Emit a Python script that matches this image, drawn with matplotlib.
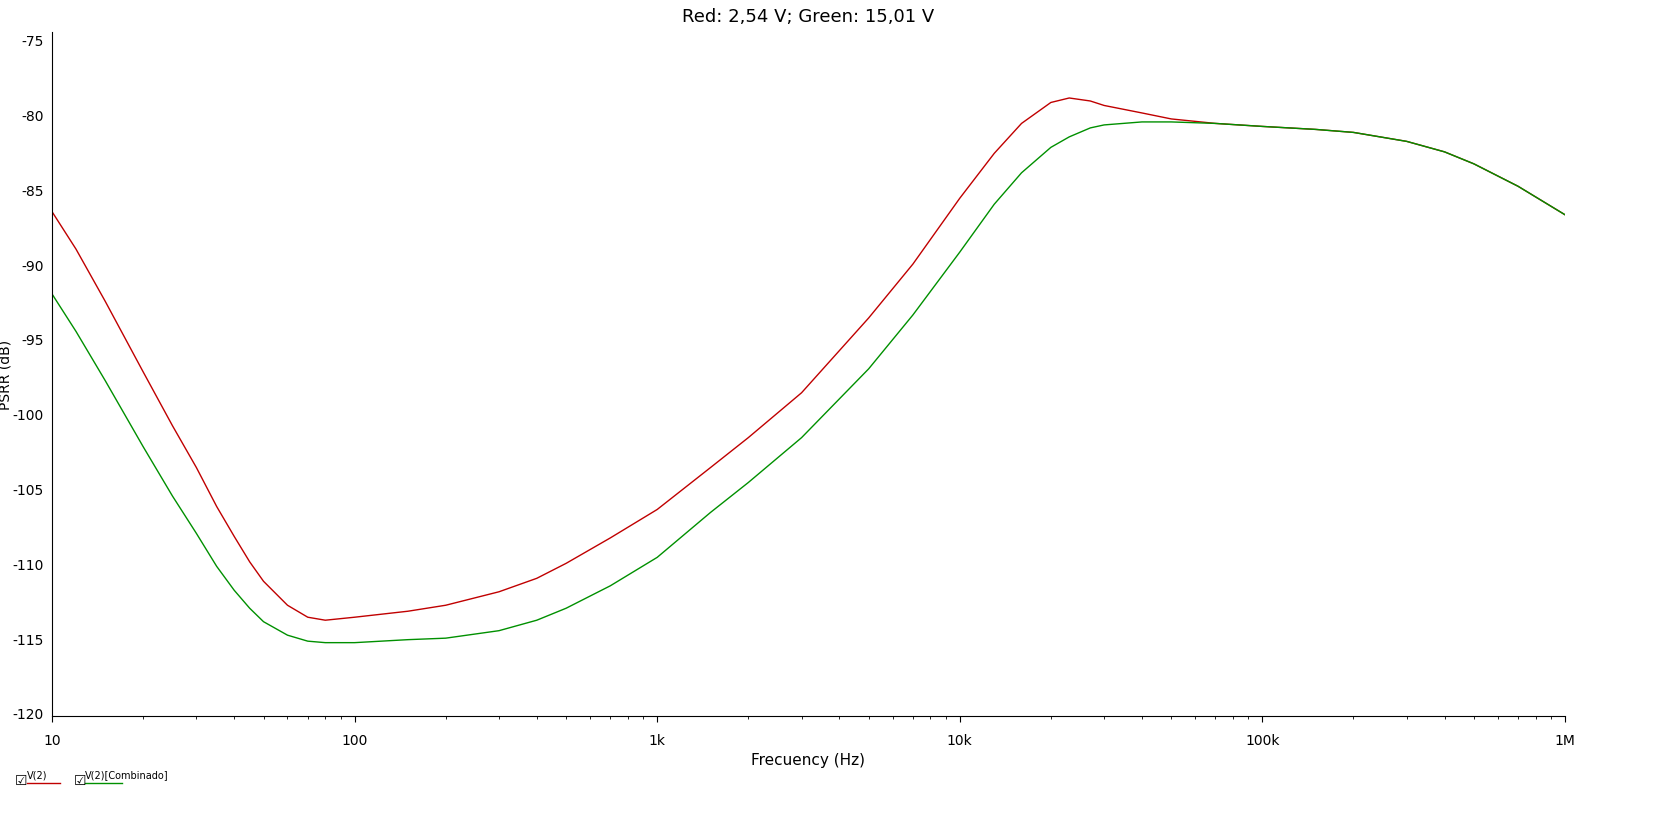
import matplotlib.pyplot as plt
import numpy as np

plt.rcParams['axes.unicode_minus'] = False

freq = [10, 12, 15, 20, 25, 30, 35, 40, 45, 50, 60, 70, 80, 100, 150, 200, 300, 400, 500, 700,
        1e3, 1.5e3, 2e3, 3e3, 5e3, 7e3, 1e4, 1.3e4, 1.6e4, 2e4, 2.3e4, 2.7e4, 3e4, 4e4, 5e4, 7e4,
        1e5, 1.5e5, 2e5, 3e5, 4e5, 5e5, 7e5, 1e6]
red = [-86.5, -89.0, -92.5, -97.2, -100.8, -103.6, -106.2, -108.2, -109.9, -111.2, -112.8, -113.6, -113.8, -113.6,
       -113.2, -112.8, -111.9, -111.0, -110.0, -108.3,
       -106.4, -103.6, -101.6, -98.6, -93.6, -90.0, -85.6, -82.6, -80.6, -79.2, -78.9, -79.1, -79.4, -79.9, -80.3, -80.6,
       -80.8, -81.0, -81.2, -81.8, -82.5, -83.3, -84.8, -86.7]
green = [-92.0, -94.5, -97.8, -102.2, -105.5, -108.0, -110.2, -111.8, -113.0, -113.9, -114.8, -115.2, -115.3, -115.3,
         -115.1, -115.0, -114.5, -113.8, -113.0, -111.5,
         -109.6, -106.6, -104.6, -101.6, -97.0, -93.4, -89.2, -86.0, -83.9, -82.2, -81.5, -80.9, -80.7, -80.5, -80.5, -80.6,
         -80.8, -81.0, -81.2, -81.8, -82.5, -83.3, -84.8, -86.7]

fig = plt.figure(figsize=(16.68, 8.37), dpi=100)
ax = fig.add_axes([0.0312, 0.1434, 0.907, 0.817])

ax.plot(freq, red, color='#c00000', lw=1)
ax.plot(freq, green, color='#009000', lw=1)

ax.set_xscale('log')
ax.set_xlim(10, 1e6)
ax.set_ylim(-120.2, -74.5)
ax.set_yticks(np.arange(-120, -74, 5))
ax.set_xticks([10, 100, 1e3, 1e4, 1e5, 1e6])
ax.set_xticklabels(['10', '100', '1k', '10k', '100k', '1M'])
ax.tick_params(axis='y', length=0, labelsize=10, pad=6)
ax.tick_params(axis='x', which='major', length=4, labelsize=10, pad=8)
ax.tick_params(axis='x', which='minor', length=2)
ax.spines['top'].set_visible(False)
ax.spines['right'].set_visible(False)
ax.set_xlabel('Frecuency (Hz)', fontsize=11)
ax.set_ylabel('PSRR (dB)', fontsize=10)
ax.yaxis.set_label_coords(-0.026, 0.5)
ax.set_title('Red: 2,54 V; Green: 15,01 V', fontsize=13, pad=8)

# legend strip
fig.text(0.009, 0.067, '\u2611', fontsize=10, va='center')
fig.text(0.016, 0.074, 'V(2)', fontsize=7, va='center')
fig.add_artist(plt.Line2D([0.016, 0.036], [0.0635, 0.0635], color='#c00000', lw=1, transform=fig.transFigure))
fig.text(0.044, 0.067, '\u2611', fontsize=10, va='center')
fig.text(0.051, 0.074, 'V(2)[Combinado]', fontsize=7, va='center')
fig.add_artist(plt.Line2D([0.051, 0.073], [0.0635, 0.0635], color='#009000', lw=1, transform=fig.transFigure))

fig.savefig('out.png', dpi=100)
